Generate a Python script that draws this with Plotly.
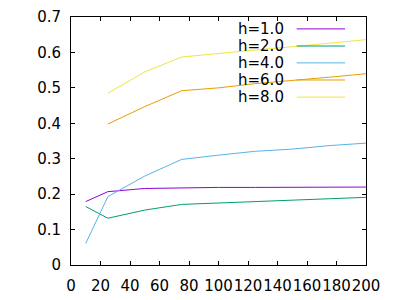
import plotly.graph_objects as go

x_all = [10, 25, 50, 75, 100, 125, 150, 175, 200]
x_late = [25, 50, 75, 100, 125, 150, 175, 200]

h1 = [0.179, 0.207, 0.216, 0.218, 0.219, 0.219, 0.22, 0.22, 0.22]
h2 = [0.165, 0.132, 0.155, 0.171, 0.175, 0.18, 0.183, 0.187, 0.191]
h4 = [0.061, 0.193, 0.251, 0.298, 0.31, 0.321, 0.327, 0.337, 0.344]
h6 = [0.398, 0.447, 0.492, 0.50, 0.512, 0.52, 0.53, 0.54]
h8 = [0.485, 0.545, 0.587, 0.598, 0.607, 0.616, 0.626, 0.636]

names = ["h=1.0", "h=2.0", "h=4.0", "h=6.0", "h=8.0"]
colors = ["#9400d3", "#009e73", "#56b4e9", "#e69f00", "#f0e442"]
series = [(x_all, h1), (x_all, h2), (x_all, h4), (x_late, h6), (x_late, h8)]

FONT = "DejaVu Sans"
FS = 15

fig = go.Figure()
for (xs, ys), n, c in zip(series, names, colors):
    fig.add_trace(go.Scatter(x=xs, y=ys, mode="lines", name=n,
                             line=dict(color=c, width=1), showlegend=False))

# gnuplot-style key: text right-aligned, sample line to the right
key_y = [0.952, 0.883, 0.815, 0.746, 0.677]
for n, c, ky in zip(names, colors, key_y):
    fig.add_annotation(x=0.729, y=ky, xref="paper", yref="paper", text=n,
                       showarrow=False, xanchor="right", yanchor="middle",
                       font=dict(family=FONT, size=FS, color="#000"))
    fig.add_shape(type="line", xref="paper", yref="paper",
                  x0=0.765, x1=0.929, y0=ky, y1=ky,
                  line=dict(color=c, width=1))

axis_common = dict(showline=True, linecolor="black", linewidth=1, mirror="ticks",
                   ticks="inside", ticklen=4, tickcolor="black", showgrid=False,
                   zeroline=False, automargin=False,
                   tickfont=dict(family=FONT, size=FS, color="#000"))

fig.update_layout(
    width=400, height=300,
    margin=dict(l=71, r=34, t=17, b=35),
    plot_bgcolor="white", paper_bgcolor="white",
    xaxis=dict(range=[0, 200], dtick=20, tick0=0, tickangle=0,
               ticklabelstandoff=7, **axis_common),
    yaxis=dict(range=[0, 0.7], dtick=0.1, tick0=0,
               ticklabelstandoff=6, **axis_common),
)

fig.write_html("out.html", config={"displayModeBar": False},
               post_script="document.body.style.margin='0';document.body.style.overflow='hidden';")
